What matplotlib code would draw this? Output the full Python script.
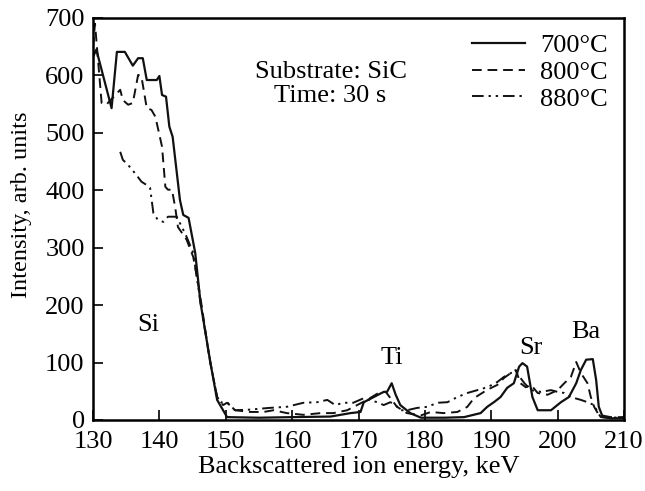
import matplotlib
matplotlib.use("Agg")
import matplotlib.pyplot as plt

plt.rcParams["font.family"] = ["Liberation Serif", "DejaVu Serif"]

# 700 °C
e700 = [130.0, 130.5, 132.8, 133.6, 134.8, 136.0, 136.8, 137.5, 138.1, 139.6, 140.0,
        140.4, 141.0, 141.5, 142.0, 143.1, 143.6, 144.4, 145.4, 146.2, 147.7, 148.7,
        149.6, 150.2, 155.0, 160.0, 165.8, 168.8, 170.3, 170.8, 172.3, 173.8, 174.3,
        175.0, 175.6, 176.3, 177.8, 179.4, 183.0, 185.9, 188.4, 189.4, 190.4, 191.4,
        192.4, 193.4, 194.2, 194.7, 195.4, 196.2, 197.0, 199.0, 200.5, 201.7, 202.8,
        203.5, 204.3, 205.3, 205.8, 206.2, 206.8, 208.0, 210.0]
i700 = [632, 645, 543, 641, 641, 617, 630, 630, 592, 592, 599,
        566, 563, 511, 493, 383, 357, 352, 291, 204, 99, 35,
        17, 5, 4, 5, 6, 12, 14, 31, 40, 49, 49,
        64, 44, 26, 12, 4, 4, 5, 12, 23, 31, 40,
        56, 64, 93, 99, 93, 40, 17, 17, 31, 40, 64,
        87, 105, 106, 70, 23, 5, 3, 3]

# 800 °C
e800 = [130.0, 130.3, 131.3, 132.0, 134.1, 134.5, 135.3, 136.0, 136.8, 137.3, 138.1,
        138.8, 139.4, 140.4, 140.9, 141.3, 141.9, 142.4, 142.8, 144.1, 145.1, 145.8,
        146.4, 147.5, 148.7, 149.6, 150.2, 151.4, 153.7, 155.7, 157.2, 159.2, 161.7,
        164.3, 166.2, 168.3, 169.8, 171.3, 173.0, 174.1, 175.8, 177.3, 179.4, 180.9,
        182.8, 184.9, 186.4, 187.4, 188.9, 190.0, 190.9, 191.9, 193.2, 193.7, 194.4,
        195.2, 196.0, 197.0, 198.5, 200.0, 201.0, 202.0, 202.8, 203.5, 204.5, 205.0,
        205.5, 206.2, 208.0, 210.0]
i800 = [650, 690, 552, 549, 575, 557, 549, 552, 601, 598, 543,
        540, 528, 476, 406, 401, 401, 369, 336, 314, 284, 240,
        197, 110, 40, 26, 30, 17, 14, 14, 17, 12, 9,
        12, 12, 17, 26, 35, 47, 49, 23, 12, 8, 14,
        12, 14, 23, 38, 49, 56, 61, 73, 84, 87, 64,
        57, 61, 47, 44, 52, 64, 75, 101, 82, 64, 40,
        23, 9, 5, 5]

# 880 °C
e880 = [134.1, 134.5, 135.3, 136.3, 137.3, 138.1, 138.6, 139.1, 139.8, 140.6, 141.3,
        142.6, 143.4, 144.1, 145.1, 146.2, 147.7, 148.7, 149.4, 150.2, 151.4, 153.5,
        156.5, 159.2, 161.7, 163.8, 165.3, 166.5, 167.7, 169.2, 170.8, 172.8, 173.8,
        174.8, 175.6, 176.3, 177.3, 178.8, 180.4, 181.9, 183.4, 184.9, 186.4, 187.9,
        189.4, 190.9, 191.9, 193.0, 193.7, 195.0, 196.0, 197.5, 199.0, 200.0, 201.0,
        202.0, 203.5, 204.5, 205.5, 206.0, 206.5, 208.0, 210.0]
i880 = [467, 453, 444, 430, 415, 409, 404, 360, 348, 345, 354,
        354, 336, 319, 291, 204, 99, 40, 30, 31, 17, 18,
        21, 23, 30, 31, 35, 26, 30, 30, 38, 31, 26,
        31, 26, 17, 17, 21, 23, 30, 31, 40, 47, 52,
        57, 66, 75, 82, 84, 64, 52, 49, 52, 49, 47,
        40, 35, 31, 26, 14, 5, 4, 5]

labels = ["700°C", "800°C", "880°C"]

fig = plt.figure(figsize=(6.45, 4.91), dpi=100)
ax = fig.add_axes([93 / 645, 1 - 420 / 491, 531 / 645, 402 / 491])

ax.plot(e700, i700, color="#111111", lw=1.6, ls="-", label=labels[0])
ax.plot(e800, i800, color="#111111", lw=1.4, ls=(0, (5, 3)), label=labels[1])
ax.plot(e880, i880, color="#111111", lw=1.4, ls=(0, (6, 2.5, 1.2, 2.5, 1.2, 2.5)), label=labels[2])

ax.set_xlim(130, 210)
ax.set_ylim(0, 700)
ax.set_xticks(range(130, 211, 10))
ax.set_yticks(range(0, 701, 100))
ax.tick_params(direction="in", length=7, width=1.2, labelsize=19,
               top=False, right=False)
ax.tick_params(axis="x", pad=8)
ax.tick_params(axis="y", pad=6)
for s in ax.spines.values():
    s.set_linewidth(1.8)

ax.set_xlabel("Backscattered ion energy, keV", fontsize=19, labelpad=2)
ax.set_ylabel("Intensity, arb. units", fontsize=17.5)
ax.yaxis.set_label_coords(-0.115, 0.535)

ax.text(165.8, 606, "Substrate: SiC", ha="center", va="center", fontsize=19)
ax.text(165.8, 564, "Time: 30 s", ha="center", va="center", fontsize=19)
ax.text(138.3, 165, "Si", ha="center", va="center", fontsize=19)
ax.text(175.1, 108, "Ti", ha="center", va="center", fontsize=19)
ax.text(196.0, 125, "Sr", ha="center", va="center", fontsize=19)
ax.text(204.3, 153, "Ba", ha="center", va="center", fontsize=19)

ax.legend(loc="upper right", frameon=False, fontsize=19, handlelength=2.0,
          handletextpad=0.6, labelspacing=0.12, borderaxespad=0.2)

fig.savefig("out.png", dpi=100)
